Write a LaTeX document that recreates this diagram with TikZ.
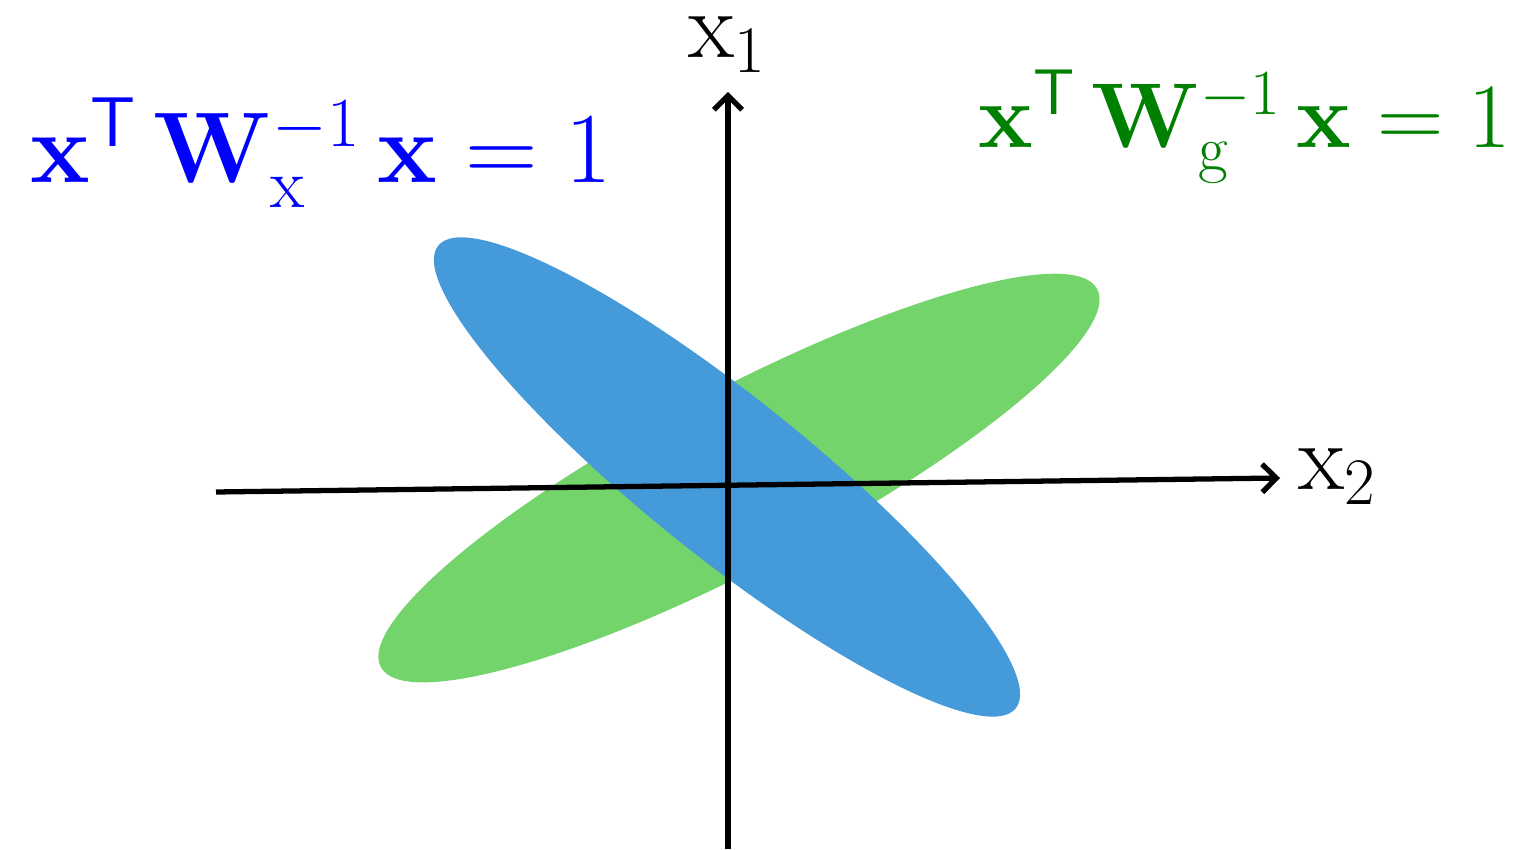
\RequirePackage{fix-cm}
\documentclass[tikz,border=0pt]{standalone}
\usepackage{amsmath}
\usetikzlibrary{arrows.meta}
\definecolor{ellblue}{HTML}{459BDA}
\definecolor{ellgreen}{HTML}{74D46C}
\definecolor{eqgreen}{HTML}{008000}
\begin{document}
\begin{tikzpicture}[declare function={gb=-38.7; gg=27.8;},
	axis/.style={line width=1.5pt,-{Straight Barb[length=4pt,width=8pt]}},
	eq/.style={inner sep=0pt,font=\fontsize{26.2}{31}\selectfont},
	lab/.style={inner sep=0pt,font=\fontsize{27}{32}\selectfont}]
	\useasboundingbox (0,0) rectangle (15.19,8.49);
	\path (7.27,3.72) coordinate (Ob)
	(7.39,3.71) coordinate (Og)
	(7.28,0) coordinate (Y0)
	(7.28,7.57) coordinate (Y1)
	(2.16,3.57) coordinate (X0)
	(12.80,3.71) coordinate (X1);
	\fill[ellgreen,rotate around={gg:(Og)}] (Og) ellipse (4.05 and 0.88);
	\fill[ellblue,rotate around={gb:(Ob)}] (Ob) ellipse (3.70 and 0.80);
	\draw[axis] (X0)--(X1);
	\draw[axis] (Y0)--(Y1);
	\node[lab,anchor=base west] (x1) at (6.88,7.91) {$\mathrm{x}_1$};
	\node[lab,anchor=base west] (x2) at (12.98,3.59) {$\mathrm{x}_2$};
	\node[eq,font=\fontsize{28.6}{34}\selectfont,text=blue,anchor=base west] (eqx) at (0.30,6.66) {$\mathbf{x}^{\mathsf{T}}\,\mathbf{W}_{\mathrm{x}}^{-1}\,\mathbf{x}=1$};
	\node[eq,text=eqgreen,anchor=base east] (eqg) at (15.12,7.01) {$\mathbf{x}^{\mathsf{T}}\,\mathbf{W}_{\mathrm{g}}^{-1}\,\mathbf{x}=1$};
\end{tikzpicture}
\end{document}
